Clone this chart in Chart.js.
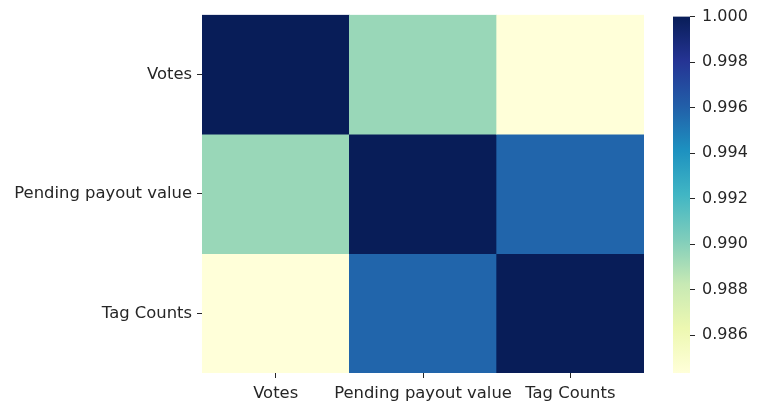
<!DOCTYPE html>
<html>
<head>
<meta charset="utf-8">
<script src="https://cdn.jsdelivr.net/npm/chart.js@4"></script>
<style>
html,body{margin:0;padding:0;background:#fff;width:766px;height:412px;overflow:hidden;}
#main{position:absolute;left:0;top:0;}
#cbar{position:absolute;left:660px;top:0;}
</style>
</head>
<body>
<canvas id="main" width="644" height="412"></canvas>
<canvas id="cbar" width="106" height="412"></canvas>
<script>
// ---- data ----
const categories = ['Votes', 'Pending payout value', 'Tag Counts'];
const votesRow   = [1.0000, 0.9895, 0.98434];
const pendingRow = [0.9895, 1.0000, 0.9958];
const tagRow     = [0.98434, 0.9958, 1.0000];
const matrix = [votesRow, pendingRow, tagRow];
const colorMin = 0.98434;
const colorMax = 1.0;
const colorbarTicks = [0.986, 0.988, 0.990, 0.992, 0.994, 0.996, 0.998, 1.000];

// ---- YlGnBu colormap ----
const ylgnbu = ['#ffffd9','#edf8b1','#c7e9b4','#7fcdbb','#41b6c4','#1d91c0','#225ea8','#253494','#081d58'];
function hex2rgb(h){return [parseInt(h.slice(1,3),16),parseInt(h.slice(3,5),16),parseInt(h.slice(5,7),16)];}
function cmap(v){
  let t = (v - colorMin) / (colorMax - colorMin);
  t = Math.max(0, Math.min(1, t));
  const p = t * (ylgnbu.length - 1);
  const i = Math.min(Math.floor(p), ylgnbu.length - 2);
  const f = p - i;
  const a = hex2rgb(ylgnbu[i]), b = hex2rgb(ylgnbu[i+1]);
  const c = a.map((x,k)=>Math.round(x + (b[k]-x)*f));
  return 'rgb(' + c.join(',') + ')';
}

const FONT = {family: 'DejaVu Sans', size: 16.4};
const TXT = '#262626';
Chart.defaults.font.family = 'DejaVu Sans';

// ---- heatmap ----
const datasets = matrix.map((row, r) => ({
  data: row.map(() => [r, r + 1]),
  backgroundColor: row.map(v => cmap(v)),
  borderWidth: 0,
  grouped: false,
  barPercentage: 1,
  categoryPercentage: 1
}));

new Chart(document.getElementById('main'), {
  type: 'bar',
  data: {labels: categories, datasets},
  options: {
    responsive: false,
    animation: false,
    layout: {padding: {top: 14, right: 0, bottom: 0, left: 0}},
    plugins: {legend: {display: false}, tooltip: {enabled: false}},
    scales: {
      x: {
        type: 'category',
        offset: true,
        grid: {display: true, offset: false, drawOnChartArea: false, drawTicks: true, tickLength: 5, color: TXT, lineWidth: 1},
        border: {display: false},
        ticks: {font: FONT, color: TXT, padding: 6, maxRotation: 0, autoSkip: false},
        afterFit: s => { s.height = 39; }
      },
      y: {
        type: 'linear',
        min: 0, max: 3,
        reverse: true,
        grid: {display: true, drawOnChartArea: false, drawTicks: true, tickLength: 5, color: TXT, lineWidth: 1},
        border: {display: false},
        afterBuildTicks: s => { s.ticks = [0.5, 1.5, 2.5].map(v => ({value: v})); },
        ticks: {font: FONT, color: TXT, padding: 5, callback: v => categories[Math.floor(v)]},
        afterFit: s => { s.width = 202; }
      }
    }
  }
});

// ---- colorbar ----
new Chart(document.getElementById('cbar'), {
  type: 'bar',
  data: {
    labels: [''],
    datasets: [{
      data: [[colorMin, colorMax]],
      borderWidth: 0,
      barPercentage: 1,
      categoryPercentage: 1,
      backgroundColor: ctx => {
        const ch = ctx.chart;
        if (!ch.chartArea) return '#ccc';
        const ys = ch.scales.y;
        const g = ch.ctx.createLinearGradient(0, ys.getPixelForValue(colorMin), 0, ys.getPixelForValue(colorMax));
        ylgnbu.forEach((c, i) => g.addColorStop(i / (ylgnbu.length - 1), c));
        return g;
      }
    }]
  },
  options: {
    responsive: false,
    animation: false,
    layout: {padding: {top: 14, right: 0, bottom: 39, left: 13}},
    plugins: {legend: {display: false}, tooltip: {enabled: false}},
    scales: {
      x: {display: false},
      y: {
        type: 'linear',
        position: 'right',
        min: colorMin, max: colorMax,
        grid: {display: true, drawOnChartArea: false, drawTicks: true, tickLength: 5, color: TXT, lineWidth: 1},
        border: {display: false},
        afterBuildTicks: s => { s.ticks = colorbarTicks.map(v => ({value: v})); },
        ticks: {font: {family: 'DejaVu Sans', size: 16}, color: TXT, padding: 7, callback: v => Number(v).toFixed(3)},
        afterFit: s => { s.width = 76; }
      }
    }
  }
});
</script>
</body>
</html>
